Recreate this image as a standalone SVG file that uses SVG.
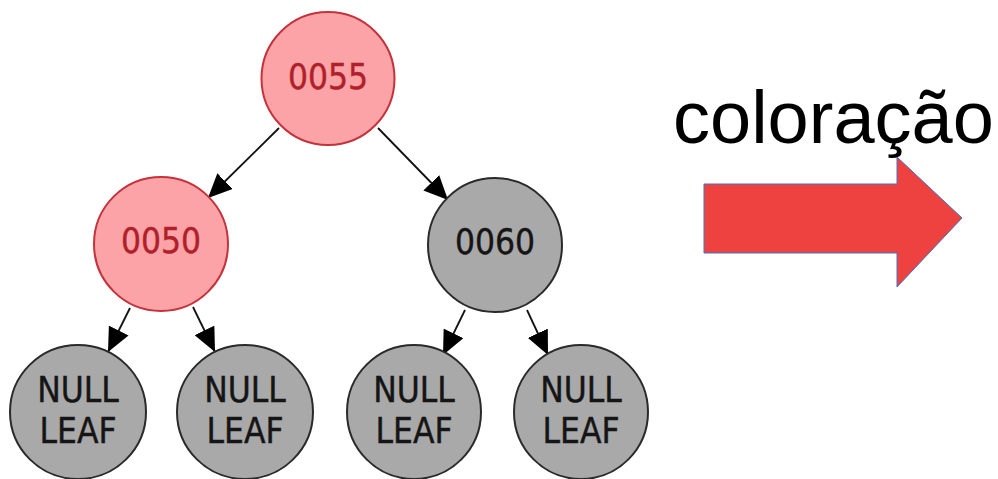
<svg xmlns="http://www.w3.org/2000/svg" width="998" height="479" viewBox="0 0 998 479">
<style>
.red circle{fill:#fba3a6;stroke:#c4323c;stroke-width:2}
.red text{fill:#b01f2a}
.blk circle,.blk ellipse{fill:#a9a9a9;stroke:#2a2a2a;stroke-width:2}
.blk text{fill:#151515}
.lbl{font-family:"DejaVu Sans Condensed","DejaVu Sans","Liberation Sans",sans-serif;font-stretch:condensed;font-size:35px;text-anchor:middle;stroke-width:0.4}
.red text{stroke:#b01f2a}
.blk text{stroke:#151515}
.edge{stroke:#111;stroke-width:1.8;fill:none;marker-end:url(#ah)}
</style>
<defs>
<marker id="ah" markerUnits="userSpaceOnUse" markerWidth="25" markerHeight="22" refX="24" refY="11" orient="auto">
<path d="M0,0 L24,11 L0,22 z" fill="#000"/>
</marker>
</defs>
<g id="edges">
<line class="edge" x1="279" y1="128" x2="208" y2="198"/>
<line class="edge" x1="378" y1="128" x2="448" y2="200"/>
<line class="edge" x1="130" y1="308" x2="108" y2="352"/>
<line class="edge" x1="193" y1="307" x2="215" y2="352"/>
<line class="edge" x1="465" y1="310" x2="443" y2="355"/>
<line class="edge" x1="527" y1="310" x2="548" y2="355"/>
</g>
<g id="n0055" class="red">
<circle cx="328" cy="78.5" r="66.5"/>
<text class="lbl" x="328" y="89">0055</text>
</g>
<g id="n0050" class="red">
<circle cx="161" cy="244" r="67"/>
<text class="lbl" x="161" y="253">0050</text>
</g>
<g id="n0060" class="blk">
<circle cx="495" cy="245" r="67"/>
<text class="lbl" x="495" y="254">0060</text>
</g>
<g id="leaf1" class="blk">
<ellipse cx="78" cy="412" rx="68" ry="67"/>
<text class="lbl" x="78" y="402">NULL</text>
<text class="lbl" x="78" y="443">LEAF</text>
</g>
<g id="leaf2" class="blk">
<ellipse cx="245" cy="412" rx="68" ry="67"/>
<text class="lbl" x="245" y="402">NULL</text>
<text class="lbl" x="245" y="443">LEAF</text>
</g>
<g id="leaf3" class="blk">
<ellipse cx="414" cy="412" rx="67" ry="67"/>
<text class="lbl" x="414" y="402">NULL</text>
<text class="lbl" x="414" y="443">LEAF</text>
</g>
<g id="leaf4" class="blk">
<ellipse cx="581" cy="412" rx="67" ry="67"/>
<text class="lbl" x="581" y="402">NULL</text>
<text class="lbl" x="581" y="443">LEAF</text>
</g>
<g id="coloracao">
<text x="673" y="143" font-family="Liberation Sans, Arial, sans-serif" font-size="74" fill="#000">coloração</text>
<polygon points="704,184 897,184 897,157 962,218 897,287 897,253 704,253" fill="#ee4240" stroke="#4472c4" stroke-width="1"/>
</g>
</svg>
